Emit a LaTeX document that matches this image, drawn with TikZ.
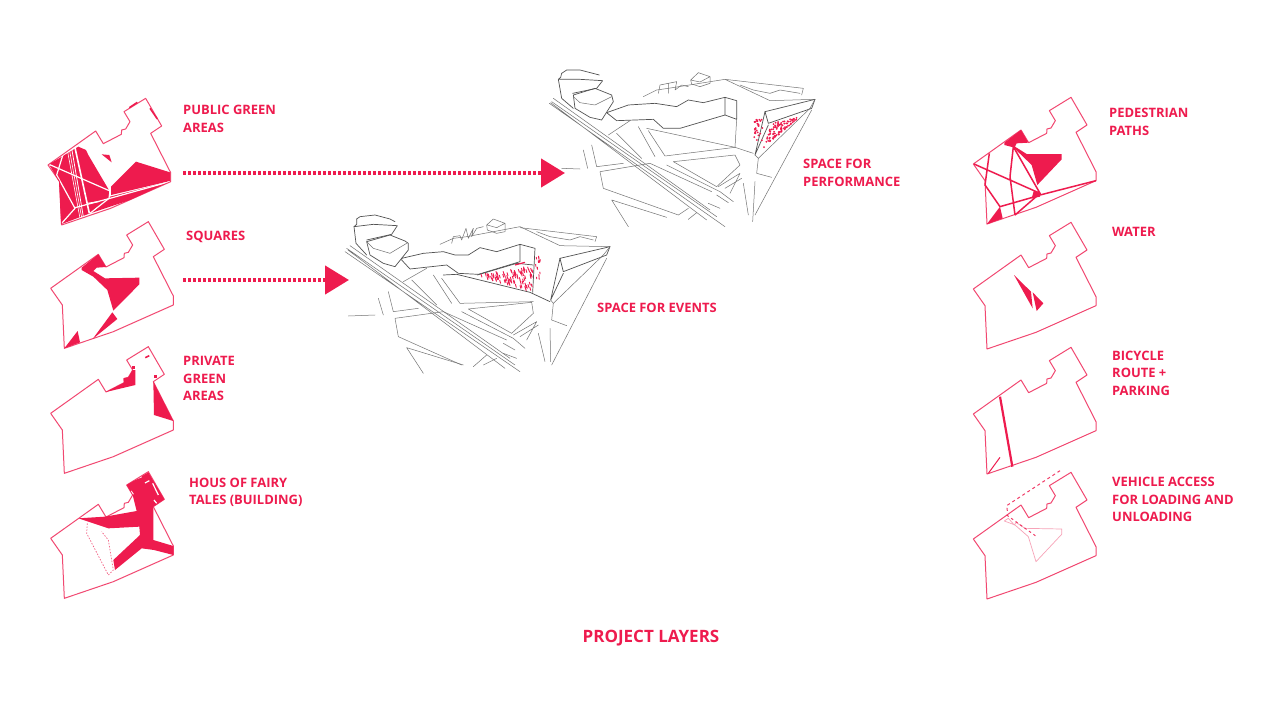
\documentclass[tikz,border=0pt]{standalone}
\usepackage{fontspec}
\setmainfont{Open Sans}
\usetikzlibrary{arrows.meta}
\definecolor{crim}{HTML}{EE1B4E}
\definecolor{crimlight}{HTML}{F7A3B8}
\tikzset{
  x=1pt,y=-1pt,
  lab/.style={text=crim,font=\fontsize{12.95}{17.5}\selectfont\bfseries,align=left,anchor=west,inner sep=0pt},
  site/.style={draw=crim,opacity=.8,line width=1pt,line join=round},
  mass/.style={fill=crim},
  band/.style={draw=crim,line width=1.5pt},
  gap/.style={draw=white,line width=1.2pt},
  sk/.style={draw=black!55,line width=.5pt,line join=round,line cap=round},
  skb/.style={draw=black!68,line width=.7pt,line join=round,line cap=round},
  hatch/.style={draw=crim,line width=.9pt},
  dotline/.style={draw=crim,line width=4.5pt,dash pattern=on 3pt off 2pt,-{Triangle[length=24pt,width=28pt,fill=crim]}},
}
\newcommand{\siteoutline}[1]{\draw[site,shift={(#1)}] (62,220)--(205,118)--(228,156)--(282,128)--(283,115)--(295,112)--(308,90)--(290,60)--(355,20)--(403,103)--(370,125)--(430,243)--(430,270)--(250,350)--(103,400)--(97,270)--(90,260)--cycle;}
\newcommand{\skone}{
  \draw[skb] (50,42)--(60,35)--(105,30)--(150,42)--(165,50);
  \draw[skb] (50,42)--(50,58)--(42,65)--(100,58)--(172,62)--(155,88)--(80,105);
  \draw[skb] (42,65)--(48,115)--(80,150);
  \draw[skb] (80,110)--(150,90)--(195,108)--(205,115)--(205,135)--(165,185)--(130,175)--(90,150)--cycle;
  \draw[sk] (80,110)--(100,130)--(150,145)--(200,115);
  \draw[skb] (185,160)--(250,145)--(310,140)--(345,150)--(385,150)--(420,128)--(470,140)--(540,118)--(540,170)--(415,208)--(355,205)--(320,180)--(210,192)--(185,165)--cycle;
  \draw[skb] (540,118)--(585,130)--(578,262);
  \draw[sk] (300,118)--(340,100)--(380,95)--(540,65)--(660,122)--(810,125);
  \draw[sk] (540,68)--(770,95)--(765,110);
  \draw[sk] (440,60)--(460,42)--(495,55)--(495,80)--(470,85)--(442,75)--cycle (442,60)--(470,68)--(495,55);
  \draw[sk] (335,115)--(340,95)--(360,92)--(365,105)--(378,70)--(385,100)--(400,70)--(395,95)--(410,70)--(430,65);
  \draw[sk] (590,80)--(630,95)--(660,100)--(690,105)--(720,95)--(760,105);
  \draw[skb] (660,160)--(810,125)--(800,150)--(670,200)--cycle;
  \draw[skb] (660,160)--(632,285)--(670,205);
  \draw[sk] (810,125)--(790,150)--(640,295)--(632,285);
  \draw[sk] (800,160)--(635,480);
  \draw[sk] (640,295)--(635,345)--(680,362);
  \draw[sk] (630,370)--(632,470) (595,385)--(615,470);
  \draw[skb] (412,210)--(530,175)--(580,180);
  \draw[skb] (310,210)--(350,208)--(570,262)--(630,290);
  \draw[sk] (15,140)--(540,500) (20,130)--(525,480) (30,122)--(510,460) (24,135)--(495,490);
  \draw[sk] (305,220)--(360,295)--(580,290) (280,210)--(335,295) (215,225)--(290,300) (190,230)--(260,190);
  \draw[sk] (145,260)--(160,320)--(235,310) (115,280)--(130,330) (25,333)--(105,330);
  \draw[sk] (165,340)--(175,395)--(365,480) (165,340)--(310,320)--(500,405);
  \draw[sk] (385,312)--(575,292)--(580,325)--(515,385)--cycle;
  \draw[sk] (365,320)--(520,400)--(555,430) (520,390)--(590,350)--(560,405) (540,395)--(595,360);
  \draw[sk] (200,428)--(250,505) (200,428)--(370,480) (490,415)--(525,435) (490,445)--(530,460) (400,485)--(440,450) (430,480)--(470,460);
}
\newcommand{\sktwo}{
  \draw[skb] (65,40)--(80,30)--(120,30)--(178,45);
  \draw[skb] (65,40)--(62,52)--(55,58)--(120,58)--(188,62)--(170,85)--(98,100);
  \draw[skb] (55,58)--(65,115)--(100,145);
  \draw[skb] (100,105)--(165,85)--(215,105)--(220,125)--(185,180)--(150,172)--(105,145)--cycle;
  \draw[sk] (100,110)--(120,128)--(165,135)--(215,110);
  \draw[skb] (200,158)--(265,135)--(345,130)--(410,140)--(445,120)--(490,128)--(555,112)--(555,165)--(420,205)--(370,205)--(340,178)--(230,182)--cycle;
  \draw[skb] (555,112)--(590,122)--(590,178)--(555,165);
  \draw[sk] (310,110)--(350,90)--(385,85)--(555,58)--(690,122)--(825,118);
  \draw[sk] (555,58)--(790,85)--(785,105);
  \draw[sk] (452,60)--(475,38)--(510,50)--(510,70)--(480,80)--(455,72)--cycle (452,60)--(480,66)--(510,50);
  \draw[sk] (355,100)--(360,75)--(385,70)--(385,100) (385,70)--(410,65)--(405,90)--(425,75)--(445,80);
  \draw[sk] (600,75)--(640,90)--(690,100)--(720,90)--(780,100);
  \draw[skb] (675,155)--(825,118)--(815,145)--(685,190)--cycle;
  \draw[skb] (675,155)--(645,285)--(685,195);
  \draw[sk] (825,118)--(810,145)--(655,295)--(645,285);
  \draw[sk] (815,150)--(645,465);
  \draw[sk] (655,295)--(650,340)--(695,352);
  \draw[sk] (645,365)--(638,485) (610,370)--(625,465);
  \draw[sk] (28,130)--(555,500) (35,125)--(530,470) (40,115)--(510,450) (32,128)--(500,480);
  \draw[sk] (325,212)--(375,288)--(585,262) (295,200)--(345,290) (230,220)--(305,295) (205,225)--(270,182);
  \draw[sk] (155,255)--(170,320)--(250,310) (130,270)--(143,325) (65,325)--(120,327);
  \draw[sk] (180,335)--(190,385)--(415,465) (180,335)--(330,310)--(515,395);
  \draw[sk] (320,205)--(585,262) (590,178)--(585,262)--(640,280);
  \draw[sk] (400,305)--(585,285)--(600,315)--(530,380)--cycle;
  \draw[sk] (380,315)--(540,395)--(580,425) (535,380)--(600,340)--(570,400) (555,385)--(605,355);
  \draw[sk] (215,420)--(265,500) (215,420)--(380,472) (505,430)--(540,445) (530,405)--(565,428) (415,465)--(445,445) (445,478)--(470,458);
}
\begin{document}
\begin{tikzpicture}
\useasboundingbox (0,0) rectangle (1280,720);
\fill[white] (0,0) rectangle (1280,720);
\pgfmathsetseed{7}

% left column
\begin{scope}[shift={(30,85)},scale=1/3]
  \fill[mass] (57,238)--(145,185)--(168,195)--(175,210)--(235,312)--(240,335)--(420,290)--(300,345)--(180,385)--(93,418)--(87,290)--cycle;
  \fill[mass] (243,305)--(318,230)--(420,262)--(420,288)--(243,330)--cycle;
  \fill[mass] (215,208)--(238,210)--(245,232)--cycle;
  \draw[band] (298,68)--(322,52) (360,70)--(382,102);
  \draw[gap] (57,238)--(240,318);
  \draw[gap,line width=.6pt] (112,195)--(150,400) (118,192)--(155,398);
  \draw[gap,line width=.8pt] (125,190)--(160,395);
  \draw[gap,line width=1.6pt] (135,188)--(178,385);
  \draw[gap] (100,205)--(80,270)--(135,370)--(95,415);
  \draw[gap] (135,368)--(240,340)--(420,290);
  \draw[gap] (240,318)--(237,340)--(180,385);
  \draw[gap] (175,355)--(205,350);
  \siteoutline{-8,20}
\end{scope}
\begin{scope}[shift={(30,215)},scale=1/3]
  \fill[mass] (155,158)--(205,118)--(228,156)--(200,158)--(190,168)--(225,190)--(328,188)--(328,208)--(250,287)--(232,225)--(190,185)--(155,165)--cycle;
  \fill[mass] (247,292)--(262,312)--(188,372)--cycle;
  \fill[mass] (103,400)--(143,348)--(150,382)--cycle;
  \siteoutline{0,0}
\end{scope}
\begin{scope}[shift={(30,340)},scale=1/3]
  \fill[mass] (228,156)--(282,128)--(280,115)--(295,112)--(308,90)--(316,90)--(316,135)--cycle;
  \fill[mass] (370,125)--(430,243)--(372,225)--cycle;
  \draw[band] (346,53)--(358,47);
  \fill[mass] (305,78) rectangle (314,88);
  \fill[mass] (371,104) rectangle (381,114);
  \siteoutline{0,0}
\end{scope}
\begin{scope}[shift={(30,465)},scale=1/3]
  \fill[mass] (290,60)--(355,22)--(403,103)--(370,125)--(370,225)--(430,243)--(430,270)--(372,255)--(335,250)--(255,315)--(250,285)--(330,210)--(328,185)--(235,190)--(145,160)--(225,155)--(320,138)--(308,90)--cycle;
  \draw[gap] (305,47)--(335,35) (345,54)--(358,47) (368,55)--(385,90) (303,78)--(310,88) (372,105)--(380,115);
  \draw[crim,line width=.7pt,dash pattern=on 1.5pt off 1.5pt,opacity=.7] (172,175)--(170,205)--(235,330)--(250,315)--(235,225)--(215,200);
  \siteoutline{0,0}
\end{scope}

% right column
\begin{scope}[shift={(960,90)},scale=1/3]
  \fill[mass] (133,158)--(183,120)--(205,158)--(170,160)--(165,170)--(200,192)--(305,192)--(305,208)--(232,285)--(215,225)--(160,172)--(133,165)--cycle;
  \fill[mass] (80,403)--(120,350)--(128,385)--cycle;
  \fill[mass] (222,300)--(240,310)--(240,320)--(215,325)--cycle;
  \draw[band] (42,222)--(240,310) (88,190)--(75,285)--(120,350) (160,170)--(150,260)--(165,375) (160,170)--(240,310)--(165,375) (120,350)--(225,320) (240,315)--(408,272);
  \siteoutline{-22,2}
\end{scope}
\begin{scope}[shift={(960,215)},scale=1/3]
  \fill[mass] (162,180)--(213,230)--(218,280)--cycle;
  \fill[mass] (218,232)--(250,265)--(230,288)--cycle;
  \siteoutline{-22,2}
\end{scope}
\begin{scope}[shift={(960,340)},scale=1/3]
  \draw[crim,line width=2.2pt] (120,170)--(157,380);
  \draw[crim,line width=1pt] (120,352)--(85,400);
  \siteoutline{-22,2}
\end{scope}
\begin{scope}[shift={(960,465)},scale=1/3]
  \draw[crimlight,line width=.7pt,line join=round] (133,168)--(145,160)--(163,180)--(168,172)--(195,190)--(305,192)--(305,208)--(228,290)--(205,215)--(165,180)--cycle;
  \draw[crim,opacity=.85,line width=1pt,dash pattern=on 3pt off 3pt] (300,17)--(140,122)--(143,145);
  \draw[crim,opacity=.85,line width=1pt,dash pattern=on 2.5pt off 3pt] (140,150)--(230,215);
  \siteoutline{-22,2}
\end{scope}

% sketches
\begin{scope}[shift={(340,205)},scale=1/3]
  \skone
  \foreach \i in {1,...,90}{
    \pgfmathsetmacro\ru{sqrt(rnd)}
    \pgfmathsetmacro\rv{rnd}
    \pgfmathsetmacro\px{(1-\ru)*412+\ru*(1-\rv)*585+\ru*\rv*572}
    \pgfmathsetmacro\py{(1-\ru)*208+\ru*(1-\rv)*178+\ru*\rv*252}
    \draw[hatch] (\px,\py)--++(3,10);
  }
  \foreach \i in {1,...,14}{
    \pgfmathsetmacro\py{150+rnd*80}
    \pgfmathsetmacro\px{585+rnd*15}
    \draw[hatch] (\px,\py)--++(1,7);
  }
  \draw[hatch,line width=1.2pt] (525,180)--(555,172);
\end{scope}
\begin{scope}[shift={(540,60)},scale=1/3]
  \sktwo
  \foreach \i in {1,...,95}{
    \pgfmathsetmacro\ru{sqrt(rnd)}
    \pgfmathsetmacro\rv{rnd}
    \pgfmathsetmacro\px{(1-\ru)*672+\ru*(1-\rv)*695+\ru*\rv*780}
    \pgfmathsetmacro\py{(1-\ru)*262+\ru*(1-\rv)*190+\ru*\rv*170}
    \fill[crim] (\px,\py) circle (3);
  }
  \foreach \i in {1,...,30}{
    \pgfmathsetmacro\py{172+rnd*75}
    \pgfmathsetmacro\px{642+rnd*26-(\py-172)*.02}
    \fill[crim] (\px,\py) circle (3);
  }
\end{scope}

% arrows
\coordinate (a1s) at (183,173);
\coordinate (a1e) at (565,173);
\coordinate (a2s) at (183,280);
\coordinate (a2e) at (349,280);
\draw[dotline] (a1s)--(a1e);
\draw[dotline] (a2s)--(a2e);

% labels
\node[lab] (l1) at (183,119) {PUBLIC GREEN\\AREAS};
\node[lab] (l2) at (186,236.5) {SQUARES};
\node[lab] (l3) at (183,378.5) {PRIVATE\\GREEN\\AREAS};
\node[lab] (l4) at (189,492.5) {HOUS OF FAIRY\\TALES (BUILDING)};
\node[lab] (r1) at (1109,122) {PEDESTRIAN\\PATHS};
\node[lab] (r2) at (1112,231.5) {WATER};
\node[lab] (r3) at (1112,373) {BICYCLE\\ROUTE +\\PARKING};
\node[lab] (r4) at (1112,499.5) {VEHICLE ACCESS\\FOR LOADING AND\\UNLOADING};
\node[lab] (s2) at (803,173) {SPACE FOR\\PERFORMANCE};
\node[lab] (s1) at (597,307.5) {SPACE FOR EVENTS};
\node[lab,font=\fontsize{17}{17}\selectfont\bfseries,anchor=center] (title) at (651,638.5) {PROJECT LAYERS};
\end{tikzpicture}
\end{document}
